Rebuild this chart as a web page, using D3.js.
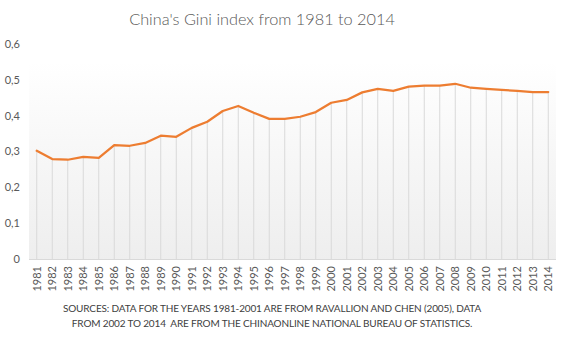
<!DOCTYPE html>
<html>
<head>
<meta charset="utf-8">
<script src="https://cdn.jsdelivr.net/npm/d3@7"></script>
<style>
  body { margin: 0; background: #fff; }
  svg text { font-family: "Lato", "Open Sans", sans-serif; fill: #595959; }
</style>
</head>
<body>
<script>
// Gini values
const years = d3.range(1981, 2015)
const gini = [
  0.302, 0.279, 0.277, 0.285, 0.282, 0.318, 0.316, 0.324, 0.344, 0.341,
  0.366, 0.383, 0.413, 0.427, 0.408, 0.391, 0.391, 0.397, 0.410, 0.436,
  0.444, 0.465, 0.475, 0.469, 0.481, 0.484, 0.484, 0.489, 0.478, 0.475,
  0.472, 0.469, 0.466, 0.466
]
const yTicks = [0, 0.1, 0.2, 0.3, 0.4, 0.5, 0.6]
const title = "China's Gini index from 1981 to 2014"
const sourceLines = [
  "SOURCES: DATA FOR THE YEARS 1981-2001 ARE FROM RAVALLION AND CHEN (2005), DATA",
  "FROM 2002 TO 2014  ARE FROM THE CHINAONLINE NATIONAL BUREAU OF STATISTICS."
]

const width = 564
const height = 346
const margin = { top: 44, right: 8, bottom: 87, left: 29 }

const svg = d3.select("body").append("svg")
  .attr("width", width)
  .attr("height", height)

const x = d3.scaleBand()
  .domain(years)
  .range([margin.left, width - margin.right])

const y = d3.scaleLinear()
  .domain([0, 0.6])
  .range([height - margin.bottom, margin.top])

const cx = d => x(d) + x.bandwidth() / 2

// plot area background, white fading to light grey
const grad = svg.append("defs").append("linearGradient")
  .attr("id", "bg")
  .attr("x1", 0).attr("y1", 0).attr("x2", 0).attr("y2", 1)
grad.append("stop").attr("offset", "0").attr("stop-color", "#ffffff")
grad.append("stop").attr("offset", "1").attr("stop-color", "#eeeeee")

svg.append("rect")
  .attr("x", margin.left)
  .attr("y", y(0.55))
  .attr("width", width - margin.right - margin.left)
  .attr("height", y(0) - y(0.55))
  .attr("fill", "url(#bg)")

// title
svg.append("text")
  .attr("x", 262)
  .attr("y", 25)
  .attr("text-anchor", "middle")
  .style("font-size", "16.3px")
  .style("font-weight", 300)
  .text(title)

// y tick labels
svg.append("g")
  .selectAll("text")
  .data(yTicks)
  .enter().append("text")
    .attr("x", 20)
    .attr("y", d => y(d))
    .attr("dy", "0.35em")
    .attr("text-anchor", "end")
    .style("font-size", "11px")
    .text(d => d === 0 ? "0" : d3.format(".1f")(d).replace(".", ","))

// drop lines from each point to the axis
svg.append("g")
  .selectAll("line")
  .data(years)
  .enter().append("line")
    .attr("x1", d => cx(d))
    .attr("x2", d => cx(d))
    .attr("y1", (d, i) => y(gini[i]))
    .attr("y2", y(0))
    .attr("stroke", "#d9d9d9")
    .attr("stroke-width", 1)

// x axis line
svg.append("line")
  .attr("x1", margin.left)
  .attr("x2", width - margin.right)
  .attr("y1", y(0) + 0.5)
  .attr("y2", y(0) + 0.5)
  .attr("stroke", "#d9d9d9")

// x labels, rotated
svg.append("g")
  .selectAll("text")
  .data(years)
  .enter().append("text")
    .attr("transform", d => "translate(" + (cx(d) + 4) + "," + (y(0) + 7) + ") rotate(-90)")
    .attr("text-anchor", "end")
    .style("font-size", "11px")
    .text(d => d)

// the line
const line = d3.line()
  .x(d => cx(d))
  .y((d, i) => y(gini[i]))

svg.append("path")
  .datum(years)
  .attr("d", line)
  .attr("fill", "none")
  .attr("stroke", "#ed7d31")
  .attr("stroke-width", 2.25)
  .attr("stroke-linejoin", "round")
  .attr("stroke-linecap", "round")

// sources note
svg.append("g")
  .selectAll("text")
  .data(sourceLines)
  .enter().append("text")
    .attr("x", 272)
    .attr("y", (d, i) => 312 + i * 15)
    .attr("text-anchor", "middle")
    .style("font-size", "10px")
    .style("letter-spacing", "-0.15px")
    .style("white-space", "pre")
    .style("fill", "#404040")
    .text(d => d)
</script>
</body>
</html>
